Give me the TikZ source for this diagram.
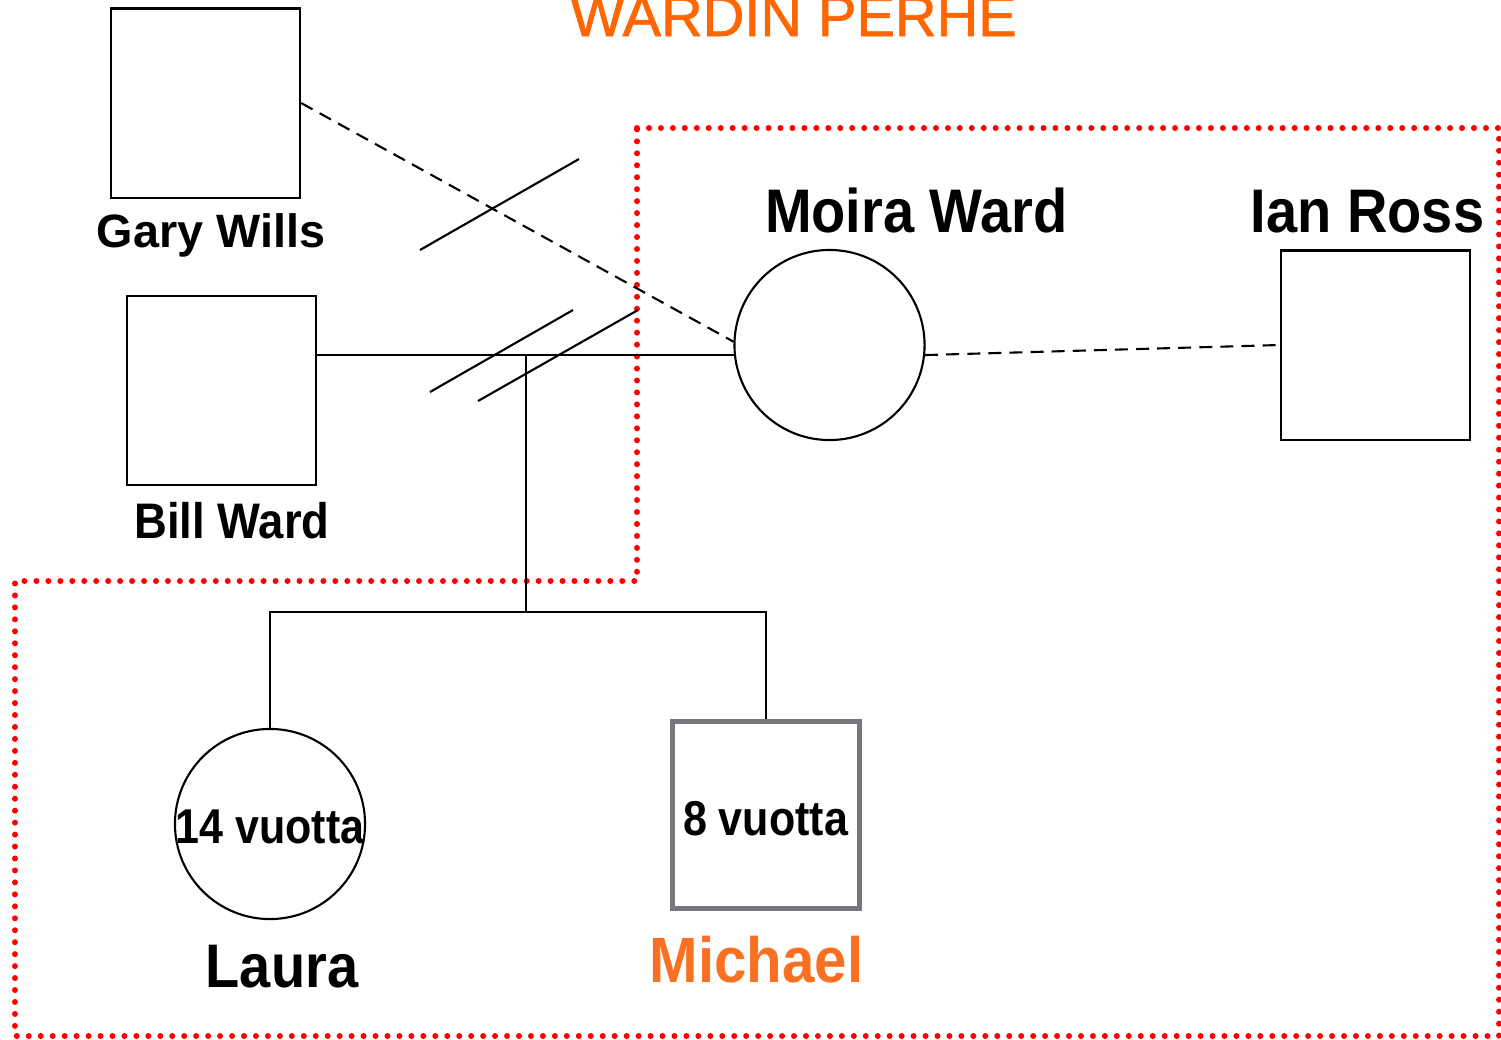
\documentclass[tikz,border=0pt]{standalone}
\usepackage{fontspec}
\usepackage{tikz}
\usetikzlibrary{calc,positioning}
\setmainfont{Liberation Sans}
\newfontfamily\namefont[FakeStretch=0.91]{Liberation Sans}
\newfontfamily\agefont[FakeStretch=0.88]{Liberation Sans}
\newfontfamily\headfont[FakeBold=1.2]{Liberation Sans}
\definecolor{titleorange}{HTML}{FF6600}
\definecolor{kidorange}{HTML}{F97022}
\definecolor{boxgray}{HTML}{77777B}
\tikzset{
  male/.style={draw, rectangle, minimum size=1.89cm, inner sep=0pt, line width=0.6pt},
  female/.style={draw, circle, minimum size=1.90cm, inner sep=0pt, line width=0.6pt},
  rel/.style={line width=0.6pt},
  apart/.style={line width=0.6pt, dash pattern=on 3.7pt off 2.3pt},
  area/.style={draw=red, line width=1.7pt, line cap=round, dash pattern=on 0pt off 3.4pt},
  label/.style={anchor=base, inner sep=0pt}
}

\begin{document}
\begin{tikzpicture}[x=0.01cm, y=-0.01cm]
        \useasboundingbox (0,0) rectangle (1501,1039);
        % household
        \draw [area] (637,128) -- (1499,128) -- (1499,1036) -- (15,1036) -- (15,581) -- (637,581) -- cycle;
        \node[label, text=titleorange, font=\headfont\fontsize{16.4pt}{18pt}\selectfont] (title) at (793.5,36) {WARDIN PERHE};
        % persons
        \node[male] (gary) at (205.5,103) {};
        \node[male] (bill) at (221.5,390.5) {};
        \node[female] (moira) at (829.5,345) {};
        \node[male] (ian) at (1375.5,345) {};
        \node[female] (laura) at (270,824) {};
        \node[draw=boxgray, rectangle, minimum size=1.87cm, inner sep=0pt, line width=1.4pt] (michael) at (766,815) {};
        % names
        \node[label, font=\bfseries\fontsize{13.3pt}{15pt}\selectfont] (garyname) at (211,247) {Gary Wills};
        \node[label, font=\namefont\bfseries\fontsize{14.2pt}{16pt}\selectfont] (billname) at (232,538) {Bill Ward};
        \node[label, font=\namefont\bfseries\fontsize{17.5pt}{20pt}\selectfont] (moiraname) at (916.5,232) {Moira Ward};
        \node[label, font=\namefont\bfseries\fontsize{17.5pt}{20pt}\selectfont] (ianname) at (1367.5,232) {Ian Ross};
        \node[label, font=\namefont\bfseries\fontsize{17.5pt}{20pt}\selectfont] (lauraname) at (282,987) {Laura};
        \node[label, text=kidorange, font=\namefont\bfseries\fontsize{18.2pt}{20pt}\selectfont] (michaelname) at (756.5,982) {Michael};
        \node[label, font=\agefont\bfseries\fontsize{13.9pt}{16pt}\selectfont] (lauraage) at (270,843) {14 vuotta};
        \node[label, font=\agefont\bfseries\fontsize{13.9pt}{16pt}\selectfont] (michaelage) at (765.5,835) {8 vuotta};
        % relations
        \draw [rel] (bill.east |- moira.186) -- (moira.186);
        \draw [apart] (gary.east) -- (moira.178);
        \draw [apart] (moira.354) -- (ian.west);
        \draw [rel] (420,250) -- (579,159);
        \draw [rel] (430,392) -- (573,310);
        \draw [rel] (478,401) -- (638,310);
        % children
        \coordinate (kids) at (526,355);
        \coordinate (sibs) at (526,612);
        \draw [rel] (kids) -- (sibs);
        \draw [rel] (laura.north) |- (sibs) -| (michael.north);
      \end{tikzpicture}
\end{document}
